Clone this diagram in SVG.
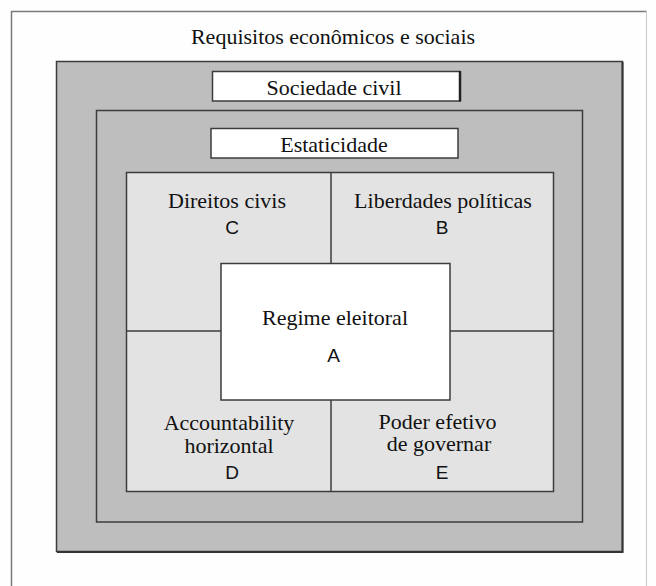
<svg xmlns="http://www.w3.org/2000/svg" width="656" height="586" viewBox="0 0 656 586">
  <style>
    .caption { font-family: 'Liberation Serif', serif; font-size: 22px; fill: #111; text-anchor: middle; }
    .letter { font-family: 'Liberation Sans', sans-serif; font-size: 19px; fill: #111; text-anchor: middle; }
    .band { fill: #bebebe; stroke: #3c3c3c; stroke-width: 1.5; }
    .label-box { fill: #ffffff; stroke: #3c3c3c; stroke-width: 1.5; }
    .cell { fill: #e3e3e3; stroke: #3c3c3c; stroke-width: 1.5; }
    .divider { stroke: #3c3c3c; stroke-width: 1.5; fill: none; }
  </style>

  <rect x="0" y="0" width="656" height="586" fill="#fefefe"/>

  <!-- outermost frame: economic and social requirements -->
  <g id="requisitos">
    <path d="M11.5,590 V11.5 H646.5" fill="none" stroke="#7a7a7a" stroke-width="1.5"/>
    <line x1="646.5" y1="11.5" x2="646.5" y2="590" stroke="#c8c8c8" stroke-width="1"/>
    <text class="caption" x="333" y="43.5">Requisitos econômicos e sociais</text>
  </g>

  <!-- civil society band -->
  <g id="sociedade-civil">
    <rect class="band" x="56.5" y="61.5" width="566" height="490"/>
    <path d="M622.5,62 V552 H57" fill="none" stroke="#333" stroke-width="2"/>
    <rect class="label-box" x="212.5" y="71.5" width="247.5" height="29.5"/>
    <line x1="460" y1="71" x2="460" y2="101.5" stroke="#222" stroke-width="2.5"/>
    <text class="caption" x="334" y="95">Sociedade civil</text>
  </g>

  <!-- stateness band -->
  <g id="estaticidade">
    <rect class="band" x="96.5" y="110.5" width="486" height="411.5"/>
    <rect class="label-box" x="211" y="128.5" width="247" height="29.5"/>
    <text class="caption" x="334" y="151.5">Estaticidade</text>
  </g>

  <!-- four-cell grid background -->
  <g id="grade">
    <rect class="cell" x="126.5" y="172.5" width="427" height="319"/>
  </g>

  <!-- cell dividers -->
  <g id="connectors">
    <line class="divider" x1="331" y1="172.5" x2="331" y2="491.5"/>
    <line class="divider" x1="126.5" y1="331" x2="553.5" y2="331"/>
  </g>

  <g id="direitos-civis">
    <text class="caption" x="227" y="207.5">Direitos civis</text>
    <text class="letter" x="232" y="234">C</text>
  </g>

  <g id="liberdades-politicas">
    <text class="caption" x="443" y="207.5">Liberdades políticas</text>
    <text class="letter" x="442" y="234">B</text>
  </g>

  <g id="accountability-horizontal">
    <text class="caption" x="229" y="430">Accountability</text>
    <text class="caption" x="229" y="453">horizontal</text>
    <text class="letter" x="232" y="479">D</text>
  </g>

  <g id="poder-efetivo">
    <text class="caption" x="437.5" y="428.5">Poder efetivo</text>
    <text class="caption" x="439" y="451">de governar</text>
    <text class="letter" x="442" y="479">E</text>
  </g>

  <!-- central electoral regime box -->
  <g id="regime-eleitoral">
    <rect class="label-box" x="221" y="263.5" width="229" height="136.5"/>
    <text class="caption" x="335" y="325">Regime eleitoral</text>
    <text class="letter" x="333.5" y="361.5">A</text>
  </g>
</svg>
